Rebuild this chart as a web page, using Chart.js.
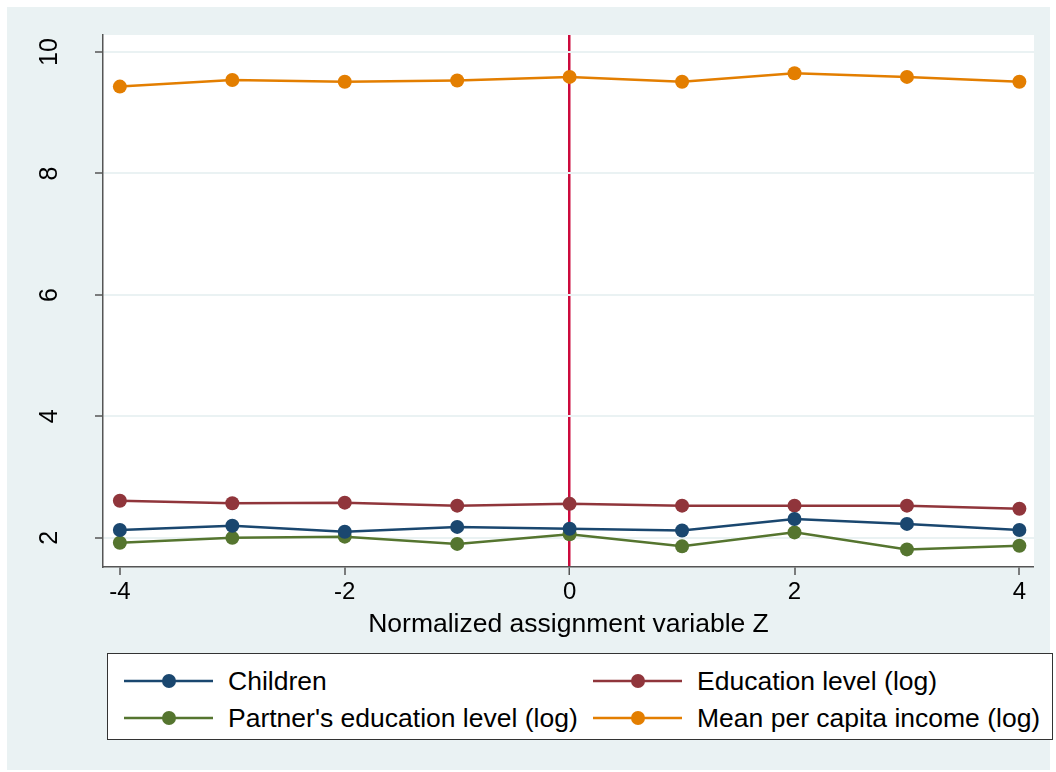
<!DOCTYPE html>
<html lang="en">
<head>
  <meta charset="UTF-8">
  <title>Normalized assignment variable Z</title>
  <script src="https://cdn.jsdelivr.net/npm/chart.js"></script>
  <style>
    body {
      margin: 0;
      background: #ffffff;
      font-family: 'Liberation Sans', Arial, sans-serif;
    }
    .frame {
      position: absolute;
      left: 7px;
      top: 7px;
      width: 1043px;
      height: 763px;
      background: #eaf2f3;
    }
    #chart-box {
      position: absolute;
      left: 0;
      top: 0;
      width: 1056px;
      height: 645px;
    }
    .legend {
      position: absolute;
      left: 107px;
      top: 653px;
      width: 944px;
      height: 85px;
      background: #ffffff;
      border: 1.5px solid #333;
    }
    .item {
      position: absolute;
      height: 30px;
      display: flex;
      align-items: center;
      font-size: 26.5px;
      color: #000;
      white-space: nowrap;
    }
    .item svg { margin-right: 13px; }
  </style>
</head>
<body>
  <div class="frame"></div>
  <div id="chart-box"><canvas id="chart"></canvas></div>
  <div class="legend" id="legend"></div>

  <script>
    const zValues = [-4, -3, -2, -1, 0, 1, 2, 3, 4];
    const yTicks = [2, 4, 6, 8, 10];

    const children   = [2.13, 2.20, 2.10, 2.18, 2.15, 2.12, 2.31, 2.23, 2.13];
    const education  = [2.61, 2.57, 2.58, 2.53, 2.56, 2.53, 2.53, 2.53, 2.48];
    const partnerEdu = [1.92, 2.00, 2.02, 1.90, 2.06, 1.86, 2.09, 1.81, 1.87];
    const income     = [9.43, 9.54, 9.51, 9.53, 9.59, 9.51, 9.65, 9.59, 9.51];

    const seriesNames  = ['Children', 'Education level (log)', "Partner's education level (log)", 'Mean per capita income (log)'];
    const seriesColors = ['#1a476f', '#90353b', '#55752f', '#e37e00'];
    const seriesData   = [children, education, partnerEdu, income];

    const cutoffColor = '#cc0a3c';

    const plotBg = {
      id: 'plotBg',
      beforeDraw(chart) {
        const a = chart.chartArea;
        const ctx = chart.ctx;
        ctx.save();
        ctx.fillStyle = '#ffffff';
        ctx.fillRect(a.left, a.top, a.right - a.left, a.bottom - a.top);
        ctx.restore();
      }
    };

    new Chart(document.getElementById('chart').getContext('2d'), {
      type: 'line',
      data: {
        datasets: seriesData.map((vals, i) => ({
          label: seriesNames[i],
          data: vals.map((v, j) => ({ x: zValues[j], y: v })),
          borderColor: seriesColors[i],
          backgroundColor: seriesColors[i],
          borderWidth: 2.5,
          pointRadius: 7,
          pointHoverRadius: 7,
          pointBorderWidth: 0,
          tension: 0
        }))
      },
      options: {
        responsive: true,
        maintainAspectRatio: false,
        animation: false,
        layout: { padding: { left: 20, top: 35, right: 22, bottom: 0 } },
        plugins: {
          legend: { display: false },
          tooltip: { enabled: false }
        },
        scales: {
          x: {
            type: 'linear',
            min: -4.15,
            max: 4.13,
            afterBuildTicks: axis => { axis.ticks = [-4, -2, 0, 2, 4].map(v => ({ value: v })); },
            afterFit: axis => { axis.height = 78; axis.paddingLeft = 0; axis.paddingRight = 0; },
            border: { display: true, color: '#555', width: 1.5 },
            grid: {
              drawOnChartArea: true,
              color: ctx => (ctx.tick && ctx.tick.value === 0 ? cutoffColor : 'rgba(0,0,0,0)'),
              lineWidth: ctx => (ctx.tick && ctx.tick.value === 0 ? 2.5 : 0),
              tickColor: '#555',
              tickLength: 8,
              tickWidth: 1.5
            },
            ticks: {
              color: '#000',
              font: { family: "'Liberation Sans', Arial", size: 24 },
              padding: 3,
              maxRotation: 0,
              callback: v => String(v)
            },
            title: {
              display: true,
              text: 'Normalized assignment variable Z',
              color: '#000',
              font: { family: "'Liberation Sans', Arial", size: 26.5 },
              padding: { top: 0, bottom: 4 }
            }
          },
          y: {
            type: 'linear',
            min: 1.52,
            max: 10.28,
            afterBuildTicks: axis => { axis.ticks = yTicks.map(v => ({ value: v })); },
            afterFit: axis => { axis.width = 83; axis.paddingTop = 0; axis.paddingBottom = 0; },
            border: { display: true, color: '#555', width: 1.5 },
            grid: {
              color: '#eaf2f3',
              lineWidth: 2,
              tickColor: '#555',
              tickLength: 8,
              tickWidth: 1.5
            },
            ticks: {
              color: '#000',
              font: { family: "'Liberation Sans', Arial", size: 25 },
              minRotation: 90,
              maxRotation: 90,
              crossAlign: 'center',
              padding: 31,
              callback: v => String(v)
            }
          }
        }
      },
      plugins: [plotBg]
    });

    // legend built from the series arrays
    const legendPos = [
      { left: 14, top: 12 }, { left: 483, top: 12 },
      { left: 14, top: 49 }, { left: 483, top: 49 }
    ];
    const legend = document.getElementById('legend');
    seriesNames.forEach((name, i) => {
      const el = document.createElement('div');
      el.className = 'item';
      el.style.left = legendPos[i].left + 'px';
      el.style.top = legendPos[i].top + 'px';
      el.innerHTML =
        '<svg width="93" height="20"><line x1="2" y1="10" x2="91" y2="10" stroke="' + seriesColors[i] +
        '" stroke-width="2.5"/><circle cx="47" cy="10" r="7" fill="' + seriesColors[i] + '"/></svg>' +
        '<span>' + name + '</span>';
      legend.appendChild(el);
    });
  </script>
</body>
</html>
